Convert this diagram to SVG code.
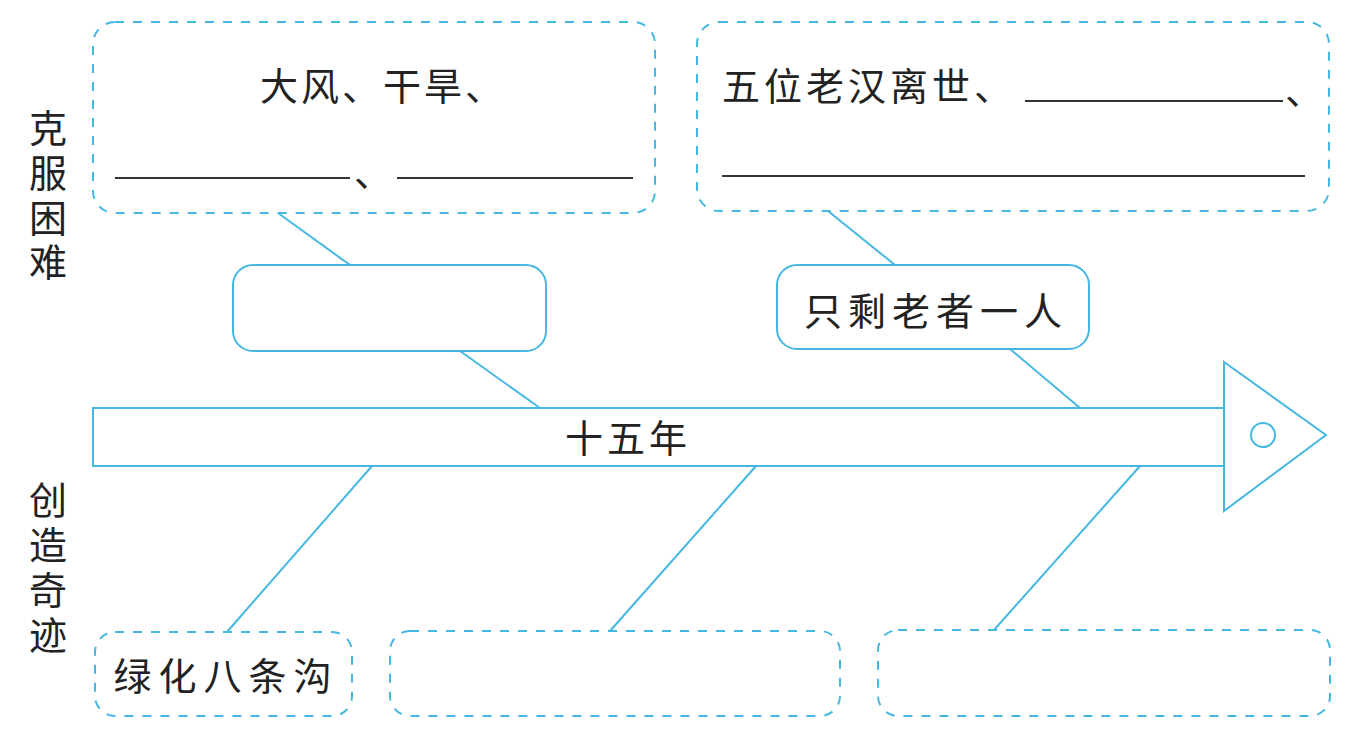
<svg xmlns="http://www.w3.org/2000/svg" width="1346" height="738" viewBox="0 0 1346 738">
<style>
.dash{fill:none;stroke:#45b8e2;stroke-width:2;stroke-dasharray:9 9}
.solid{fill:#fff;stroke:#45b8e2;stroke-width:2}
.ln{stroke:#45b8e2;stroke-width:2;fill:none}
.ul{stroke:#333;stroke-width:2}
.t{font-family:"Noto Sans CJK SC","Noto Sans CJK JP",sans-serif;font-size:38px;fill:#222}
</style>
<rect width="1346" height="738" fill="#fff"/>
<g id="connectors">
<line class="ln" x1="278" y1="213" x2="350" y2="265"/>
<line class="ln" x1="460" y1="351" x2="540" y2="408"/>
<line class="ln" x1="828" y1="211" x2="895" y2="265"/>
<line class="ln" x1="1010" y1="349" x2="1080" y2="408"/>
<line class="ln" x1="372" y1="466" x2="227" y2="632"/>
<line class="ln" x1="756" y1="466" x2="610" y2="631"/>
<line class="ln" x1="1140" y1="466" x2="994" y2="630"/>
</g>
<g id="label-left-top">
<text class="t" x="48" y="142" text-anchor="middle">克</text>
<text class="t" x="48" y="187" text-anchor="middle">服</text>
<text class="t" x="48" y="232" text-anchor="middle">困</text>
<text class="t" x="48" y="276" text-anchor="middle">难</text>
</g>
<g id="label-left-bottom">
<text class="t" x="48" y="514" text-anchor="middle">创</text>
<text class="t" x="48" y="559" text-anchor="middle">造</text>
<text class="t" x="48" y="604" text-anchor="middle">奇</text>
<text class="t" x="48" y="649" text-anchor="middle">迹</text>
</g>
<g id="box-top-left">
<rect class="dash" x="93" y="22" width="562" height="191" rx="22"/>
<text class="t" x="260" y="100" letter-spacing="3">大风、干旱、</text>
<line class="ul" x1="115" y1="178" x2="350" y2="178"/>
<text class="t" x="354" y="186">、</text>
<line class="ul" x1="397" y1="178" x2="633" y2="178"/>
</g>
<g id="box-top-right">
<rect class="dash" x="697" y="22" width="632" height="189" rx="22"/>
<text class="t" x="722" y="100" letter-spacing="4">五位老汉离世、</text>
<line class="ul" x1="1025" y1="101" x2="1283" y2="101"/>
<text class="t" x="1285" y="104">、</text>
<line class="ul" x1="722" y1="176" x2="1305" y2="176"/>
</g>
<g id="box-mid-left">
<rect class="solid" x="233" y="265" width="313" height="86" rx="20"/>
</g>
<g id="box-mid-right">
<rect class="solid" x="777" y="265" width="312" height="84" rx="20"/>
<text class="t" x="936" y="325" text-anchor="middle" letter-spacing="6">只剩老者一人</text>
</g>
<g id="spine">
<rect class="solid" x="93" y="408" width="1131" height="58"/>
<polygon class="solid" points="1224,362 1326,435 1224,511"/>
<circle class="ln" cx="1263" cy="435" r="12"/>
<text class="t" x="628" y="452" text-anchor="middle" letter-spacing="4">十五年</text>
</g>
<g id="box-bottom-1">
<rect class="dash" x="95" y="632" width="257" height="84" rx="20"/>
<text class="t" x="226" y="690" text-anchor="middle" letter-spacing="7">绿化八条沟</text>
</g>
<g id="box-bottom-2">
<rect class="dash" x="390" y="631" width="450" height="85" rx="20"/>
</g>
<g id="box-bottom-3">
<rect class="dash" x="878" y="630" width="452" height="86" rx="20"/>
</g>
</svg>
